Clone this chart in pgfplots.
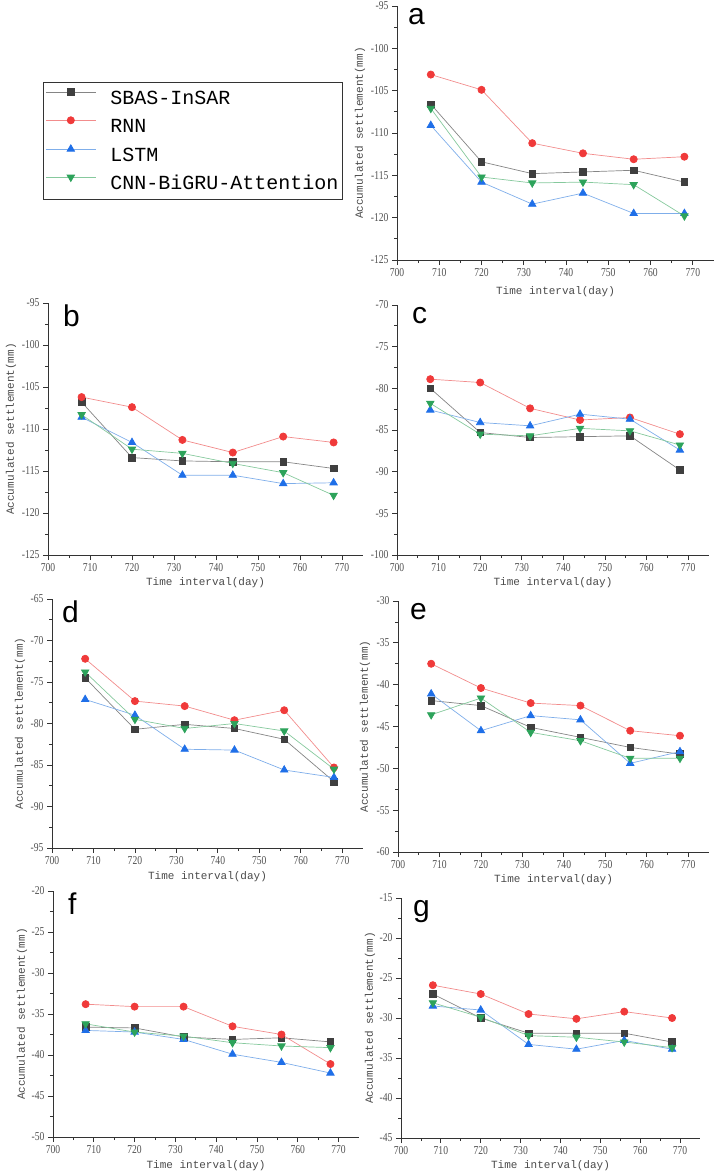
\documentclass[border=0pt]{standalone}
\usepackage{fontspec}
\usepackage{pgfplots}
\usepackage{pgfplotstable}
\pgfplotsset{compat=1.18}
\setmainfont{Liberation Serif}
\newfontfamily\monof{Liberation Mono}
\newfontfamily\tickf{Liberation Serif}[FakeStretch=0.8]
\newfontfamily\letterf{Liberation Sans}

\definecolor{sbasmark}{HTML}{3F3F3F}
\definecolor{sbasline}{HTML}{858585}
\definecolor{rnnmark}{HTML}{F03A3A}
\definecolor{rnnline}{HTML}{F28C8C}
\definecolor{lstmmark}{HTML}{1F6FE8}
\definecolor{lstmline}{HTML}{7FAEEA}
\definecolor{cnnmark}{HTML}{2DA35B}
\definecolor{cnnline}{HTML}{86C99D}
\definecolor{axisgray}{HTML}{333333}
\definecolor{tickgray}{HTML}{505050}
\definecolor{labelgray}{HTML}{4A4A4A}

% x, SBAS-InSAR, RNN, LSTM, CNN-BiGRU-Attention
\pgfplotstableread{
x sbas rnn lstm cnn
708 -106.6 -103.1 -109.1 -107.1
720 -113.4 -104.9 -115.8 -115.2
732 -114.8 -111.2 -118.4 -115.9
744 -114.6 -112.4 -117.1 -115.8
756 -114.4 -113.1 -119.5 -116.1
768 -115.8 -112.8 -119.5 -119.8
}\dataA
\pgfplotstableread{
x sbas rnn lstm cnn
708 -106.8 -106.2 -108.6 -108.3
720 -113.4 -107.4 -111.6 -112.4
732 -113.8 -111.3 -115.5 -112.9
744 -113.9 -112.8 -115.5 -114.1
756 -113.9 -110.9 -116.5 -115.2
768 -114.7 -111.6 -116.4 -117.9
}\dataB
\pgfplotstableread{
x sbas rnn lstm cnn
708 -80.0 -78.9 -82.6 -81.8
720 -85.3 -79.3 -84.1 -85.5
732 -85.9 -82.4 -84.5 -85.7
744 -85.8 -83.8 -83.1 -84.8
756 -85.7 -83.5 -83.7 -85.1
768 -89.8 -85.5 -87.4 -86.8
}\dataC
\pgfplotstableread{
x sbas rnn lstm cnn
708 -74.5 -72.2 -77.1 -73.8
720 -80.7 -77.3 -79.0 -79.5
732 -80.1 -77.9 -83.1 -80.6
744 -80.6 -79.6 -83.2 -80.0
756 -81.9 -78.4 -85.6 -80.9
768 -87.0 -85.3 -86.5 -85.5
}\dataD
\pgfplotstableread{
x sbas rnn lstm cnn
708 -41.9 -37.5 -41.1 -43.6
720 -42.5 -40.4 -45.5 -41.6
732 -45.1 -42.2 -43.7 -45.7
744 -46.3 -42.5 -44.2 -46.7
756 -47.5 -45.5 -49.4 -48.8
768 -48.3 -46.1 -48.0 -48.8
}\dataE
\pgfplotstableread{
x sbas rnn lstm cnn
708 -36.6 -33.8 -37.0 -36.2
720 -36.7 -34.1 -37.2 -37.2
732 -37.8 -34.1 -38.1 -37.7
744 -38.1 -36.5 -39.9 -38.5
756 -37.9 -37.5 -40.9 -38.9
768 -38.4 -41.1 -42.2 -39.1
}\dataF
\pgfplotstableread{
x sbas rnn lstm cnn
708 -27.0 -25.9 -28.5 -28.1
720 -30.0 -27.0 -29.0 -29.9
732 -31.9 -29.5 -33.3 -32.2
744 -31.9 -30.1 -33.9 -32.4
756 -31.9 -29.2 -32.8 -33.0
768 -33.0 -30.0 -33.9 -33.7
}\dataG

\pgfplotsset{
  panel/.style={
    scale only axis, clip=false,
    xmin=700, xmax=775, xtick={700,710,...,770}, minor x tick num=1,
    ytick distance=5, minor y tick num=1,
    axis x line=bottom, axis y line=left,
    axis line style={-, line width=0.8pt, color=axisgray},
    tick align=outside, major tick length=5pt, minor tick length=3pt,
    tick style={line width=0.8pt, color=axisgray},
    ticklabel style={font=\tickf\fontsize{12}{13}\selectfont, text=tickgray},
    /pgf/number format/assume math mode=true,
    /pgf/number format/1000 sep={},
    xlabel={Time interval(day)},
  },
  xlab/.style={every axis x label/.style={at={([yshift=-#1]axis description cs:0.5,0)},
    anchor=center, font=\monof\fontsize{11}{12}\selectfont, text=labelgray}},
  ylab/.style={ylabel={Accumulated settlement(mm)},
    every axis y label/.style={at={([xshift=-#1]axis description cs:0,0.5)},
    anchor=center, rotate=90, font=\monof\fontsize{11}{12}\selectfont, text=labelgray}},
  sbas/.style={color=sbasline, line width=0.7pt, mark=square*, mark size=3.3pt,
    mark options={solid, fill=sbasmark, draw=sbasmark}},
  rnn/.style={color=rnnline, line width=0.7pt, mark=*, mark size=3.6pt,
    mark options={solid, fill=rnnmark, draw=rnnmark}},
  lstm/.style={color=lstmline, line width=0.7pt, mark=triangle*, mark size=4.3pt,
    mark options={solid, fill=lstmmark, draw=lstmmark}},
  cnn/.style={color=cnnline, line width=0.7pt, mark=triangle*, mark size=4.3pt,
    mark options={solid, rotate=180, fill=cnnmark, draw=cnnmark}},
  legimg/.style={legend image code/.code={%
    \draw[##1, mark=none, line width=1pt] (0pt,6pt) -- (50pt,6pt);
    \draw[##1, only marks] plot coordinates {(25pt,6pt)};}},
}

\newcommand{\fourplots}[1]{%
  \addplot[sbas] table[x=x, y=sbas]{#1};
  \addplot[rnn] table[x=x, y=rnn]{#1};
  \addplot[lstm] table[x=x, y=lstm]{#1};
  \addplot[cnn] table[x=x, y=cnn]{#1};
}
\newcommand{\panelletter}[2]{%
  \node[anchor=north west, inner sep=0pt, font=\letterf\fontsize{30}{30}\selectfont]
    at ([xshift=#1, yshift=-2pt]rel axis cs:0,1) {#2};
}

\begin{document}
\begin{tikzpicture}
\useasboundingbox (0pt,0pt) rectangle (717pt,-1175pt);

% a
\begin{axis}[panel, at={(397pt,-260pt)}, anchor=south west,
  width=317pt, height=254pt, ymin=-125, ymax=-95, xlab=32pt, ylab=37pt,
  legend style={at={(-1.117,0.701)}, anchor=north west,
    draw=axisgray, line width=0.8pt,
    font=\monof\fontsize{20}{22}\selectfont,
    inner xsep=2pt, inner ysep=6pt, row sep=8.7pt,
    /tikz/every even column/.append style={text height=14pt, text depth=4pt, inner sep=0pt},
    /tikz/every odd column/.append style={column sep=12pt}},
  legend cell align=left, legimg,
]
\fourplots{\dataA}
\legend{SBAS-InSAR, RNN, LSTM, CNN-BiGRU-Attention}
\panelletter{11pt}{a}
\end{axis}

% b
\begin{axis}[panel, at={(48pt,-555pt)}, anchor=south west,
  width=315pt, height=252pt, ymin=-125, ymax=-95, xlab=28pt, ylab=37pt]
\fourplots{\dataB}
\panelletter{15pt}{b}
\end{axis}

% c
\begin{axis}[panel, at={(397pt,-555pt)}, anchor=south west,
  width=312pt, height=250pt, ymin=-100, ymax=-70, xlab=28pt]
\fourplots{\dataC}
\panelletter{15pt}{c}
\end{axis}

% d
\begin{axis}[panel, at={(52pt,-848pt)}, anchor=south west,
  width=311pt, height=249pt, ymin=-95, ymax=-65, xlab=29pt, ylab=32pt]
\fourplots{\dataD}
\panelletter{10pt}{d}
\end{axis}

% e
\begin{axis}[panel, at={(398pt,-852pt)}, anchor=south west,
  width=311pt, height=251pt, ymin=-60, ymax=-30, xlab=28pt, ylab=33pt]
\fourplots{\dataE}
\panelletter{12pt}{e}
\end{axis}

% f
\begin{axis}[panel, at={(53pt,-1137pt)}, anchor=south west,
  width=306pt, height=246pt, ymin=-50, ymax=-20, xlab=29pt, ylab=31pt]
\fourplots{\dataF}
\panelletter{15pt}{f}
\end{axis}

% g
\begin{axis}[panel, at={(401pt,-1138pt)}, anchor=south west,
  width=299pt, height=240pt, ymin=-45, ymax=-15, xlab=28pt, ylab=31pt]
\fourplots{\dataG}
\panelletter{12pt}{g}
\end{axis}
\end{tikzpicture}
\end{document}
